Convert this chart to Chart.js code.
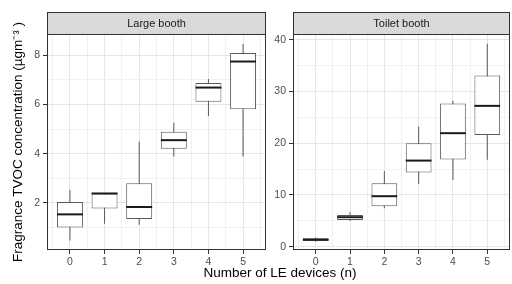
<!DOCTYPE html>
<html>
<head>
<meta charset="utf-8">
<script src="https://cdn.jsdelivr.net/npm/chart.js@4.4.1/dist/chart.umd.min.js"></script>
<style>
  html, body { margin: 0; padding: 0; background: #fff; }
  #wrap { position: relative; width: 512px; height: 284px; overflow: hidden; font-family: 'Liberation Sans', Arial, sans-serif; }
  #large  { position: absolute; left: 0; top: 0; }
  #toilet { position: absolute; left: 270px; top: 0; }
  #xtitle { position: absolute; left: 130px; width: 300px; top: 265px; text-align: center; font-size: 13.5px; line-height: 16px; color: #000; }
</style>
</head>
<body>
<div id="wrap">
  <canvas id="large" width="270" height="268"></canvas>
  <canvas id="toilet" width="242" height="268"></canvas>
  <div id="xtitle">Number of LE devices (n)</div>
</div>
<script>
// ── Data ─────────────────────────────────────────────────────────────────────
const devices    = [0, 1, 2, 3, 4, 5]
const xGridTicks = [-0.5, 0, 0.5, 1, 1.5, 2, 2.5, 3, 3.5, 4, 4.5, 5, 5.5]

// Large booth (µg m-3)
const largeMin    = [0.47, 1.15, 1.11, 3.88, 5.53, 3.88]
const largeQ1     = [1.00, 1.77, 1.34, 4.20, 6.11, 5.81]
const largeMedian = [1.53, 2.38, 1.83, 4.55, 6.69, 7.75]
const largeQ3     = [2.03, 2.38, 2.80, 4.89, 6.88, 8.10]
const largeMax    = [2.53, 2.40, 4.49, 5.26, 7.04, 8.46]
const largeYTicks  = [1, 2, 3, 4, 5, 6, 7, 8]
const largeYLabels = [2, 4, 6, 8]

// Toilet booth (µg m-3)
const toiletMin    = [0.95, 4.97, 7.43, 12.13, 12.90, 16.77]
const toiletQ1     = [1.10, 5.16, 7.81, 14.31, 16.83, 21.60]
const toiletMedian = [1.35, 5.69, 9.75, 16.63, 21.93, 27.21]
const toiletQ3     = [1.60, 6.13, 12.26, 20.00, 27.66, 33.07]
const toiletMax    = [1.75, 6.65, 14.64, 23.20, 28.18, 39.20]
const toiletYTicks  = [0, 5, 10, 15, 20, 25, 30, 35, 40]
const toiletYLabels = [0, 10, 20, 30, 40]

// ── Defaults ─────────────────────────────────────────────────────────────────
Chart.defaults.font.family = "'Liberation Sans', Arial, sans-serif"
Chart.defaults.color       = '#4d4d4d'

const GRID_MAJOR = '#e6e6e6'
const GRID_MINOR = '#f1f1f1'
const INK        = '#333333'
const BOX_LINE   = '#595959'

// ── Facet strip + panel border ───────────────────────────────────────────────
const facetPlugin = {
  id: 'facet',
  beforeDraw(chart, args, opts) {
    const { ctx, chartArea: a } = chart
    const l = Math.round(a.left) + 0.5, r = Math.round(a.right) - 0.5
    const t = opts.top + 0.5, b = Math.round(a.top) + 0.5
    ctx.save()
    ctx.fillStyle = '#d9d9d9'
    ctx.fillRect(l, t, r - l, b - t)
    ctx.strokeStyle = INK
    ctx.lineWidth = 1
    ctx.strokeRect(l, t, r - l, b - t)
    ctx.fillStyle = '#1a1a1a'
    ctx.font = "11px 'Liberation Sans', Arial, sans-serif"
    ctx.textAlign = 'center'
    ctx.textBaseline = 'middle'
    ctx.fillText(opts.text, (l + r) / 2, (t + b) / 2 + 0.5)
    ctx.restore()
  },
  afterDatasetsDraw(chart) {
    const { ctx, chartArea: a } = chart
    const l = Math.round(a.left) + 0.5, r = Math.round(a.right) - 0.5
    const t = Math.round(a.top) + 0.5, b = Math.round(a.bottom) - 0.5
    ctx.save()
    ctx.strokeStyle = INK
    ctx.lineWidth = 1
    ctx.strokeRect(l, t, r - l, b - t)
    ctx.restore()
  },
}

// ── Build one boxplot panel ──────────────────────────────────────────────────
function buildPanel(id, cfg) {
  const pts   = vals => devices.map((x, i) => ({ x, y: vals[i] }))
  const range = (lo, hi) => devices.map((x, i) => ({ x, y: [lo[i], hi[i]] }))
  const halfBox = ctx => {
    const s = ctx.chart.scales.x
    return s.getPixelForValue(0.375) - s.getPixelForValue(0)
  }

  return new Chart(document.getElementById(id), {
    type: 'bar',
    data: {
      datasets: [
        {
          type: 'line',
          data: pts(cfg.median),
          showLine: false,
          pointStyle: 'line',
          pointRadius: halfBox,
          pointHoverRadius: halfBox,
          pointBorderColor: '#1a1a1a',
          pointBorderWidth: 2,
          order: 0,
        },
        {
          data: range(cfg.q1, cfg.q3),
          backgroundColor: '#ffffff',
          borderColor: BOX_LINE,
          borderWidth: 1,
          borderSkipped: false,
          // bar ruler uses the 0.5-step grid ticks, so 1.5 = 0.75 of a category
          barPercentage: 1.5,
          categoryPercentage: 1,
          grouped: false,
          order: 1,
        },
        {
          data: range(cfg.min, cfg.max),
          backgroundColor: BOX_LINE,
          maxBarThickness: 1,
          grouped: false,
          order: 2,
        },
      ],
    },
    options: {
      responsive: false,
      animation: false,
      events: [],
      layout: { padding: { top: 34, right: cfg.padRight, left: 0, bottom: 0 } },
      plugins: {
        legend: { display: false },
        tooltip: { enabled: false },
        facet: { text: cfg.strip, top: 12 },
      },
      scales: {
        x: {
          type: 'linear',
          min: -0.6625, max: 5.6625,
          offset: false,
          afterBuildTicks: s => { s.ticks = xGridTicks.map(v => ({ value: v })) },
          afterFit: s => { s.height = 18 },
          ticks: {
            autoSkip: false, maxRotation: 0, padding: 2,
            color: '#4d4d4d', font: { size: 10.5 },
            callback: v => devices.includes(v) ? String(v) : '',
          },
          grid: {
            offset: false,
            color: c => Number.isInteger(c.tick.value) ? GRID_MAJOR : GRID_MINOR,
            lineWidth: 1,
            drawTicks: true, tickLength: 4,
            tickColor: c => Number.isInteger(c.tick.value) ? INK : 'rgba(0,0,0,0)',
          },
          border: { display: false },
        },
        y: {
          min: cfg.yMin, max: cfg.yMax,
          afterBuildTicks: s => { s.ticks = cfg.yTicks.map(v => ({ value: v })) },
          afterFit: s => { s.width = cfg.yWidth },
          ticks: {
            autoSkip: false, padding: 3,
            color: '#4d4d4d', font: { size: 10.5 },
            callback: v => cfg.yLabels.includes(v) ? String(v) : '',
          },
          grid: {
            color: c => cfg.yLabels.includes(c.tick.value) ? GRID_MAJOR : GRID_MINOR,
            lineWidth: 1,
            drawTicks: true, tickLength: 4,
            tickColor: c => cfg.yLabels.includes(c.tick.value) ? INK : 'rgba(0,0,0,0)',
          },
          border: { display: false },
          title: {
            display: !!cfg.yTitle,
            text: cfg.yTitle,
            color: '#000',
            font: { size: 13.5 },
            padding: { top: 10, bottom: 0 },
          },
        },
      },
    },
    plugins: [facetPlugin],
  })
}

// ── Init ─────────────────────────────────────────────────────────────────────
buildPanel('large', {
  strip: 'Large booth',
  min: largeMin, q1: largeQ1, median: largeMedian, q3: largeQ3, max: largeMax,
  yMin: 0.08, yMax: 8.87, yTicks: largeYTicks, yLabels: largeYLabels,
  yWidth: 47, padRight: 4,
  yTitle: 'Fragrance TVOC concentration (µgm⁻³ )',
})

buildPanel('toilet', {
  strip: 'Toilet booth',
  min: toiletMin, q1: toiletQ1, median: toiletMedian, q3: toiletQ3, max: toiletMax,
  yMin: -0.65, yMax: 41.1, yTicks: toiletYTicks, yLabels: toiletYLabels,
  yWidth: 23, padRight: 2,
  yTitle: '',
})
</script>
</body>
</html>
